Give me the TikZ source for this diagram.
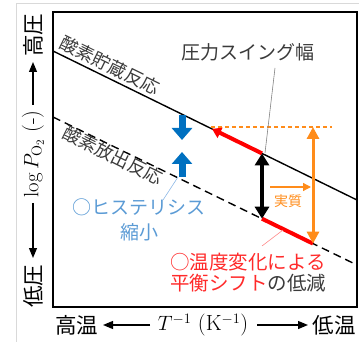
\documentclass[tikz,border=0pt]{standalone}
\usepackage[no-math]{fontspec}
\newfontfamily\jp{Noto Sans CJK JP}
\usetikzlibrary{arrows.meta}
\definecolor{bluearr}{HTML}{0070C0}
\definecolor{bluetxt}{HTML}{5B9BD5}
\definecolor{blueldr}{HTML}{8DB8E6}
\definecolor{redc}{HTML}{FF0000}
\definecolor{redtxt}{HTML}{FF2A2A}
\definecolor{redldr}{HTML}{FF8A8A}
\definecolor{orangec}{HTML}{FF8C1A}
\definecolor{darktxt}{HTML}{3A3A3A}
\definecolor{framegray}{HTML}{D9D9D9}
\tikzset{
  jplbl/.style={inner sep=0pt, font=\jp\fontsize{19}{22}\selectfont},
  rotlbl/.style={inner sep=0pt, font=\jp\fontsize{18}{20}\selectfont, text=darktxt, rotate=-26.2},
  axtxt/.style={inner sep=0pt, font=\jp\fontsize{21.5}{24}\selectfont},
  axmath/.style={inner sep=0pt, font=\fontsize{22}{26}\selectfont},
  axarrow/.style={line width=1.2pt, -{Triangle[width=8pt,length=10pt]}},
  leader/.style={line width=0.6pt},
  bluearrow/.style={bluearr, line width=7pt, -{Triangle[width=20pt,length=12pt]}},
  redseg/.style={redc, line width=4pt},
  blkdouble/.style={line width=3.2pt, {Triangle[width=14pt,length=12pt]}-{Triangle[width=14pt,length=12pt]}},
  orgdouble/.style={orangec, line width=3pt, {Triangle[width=12pt,length=12pt]}-{Triangle[width=12pt,length=12pt]}},
}
\begin{document}
\begin{tikzpicture}[x=1pt,y=-1pt]
\useasboundingbox (0,0) rectangle (359,342);
% outer light frame
\draw[framegray, line width=0.8pt] (16,342) -- (16,3) -- (359,3);
% plot box
\draw[line width=1.6pt] (53,12) rectangle (357,307);

% equilibrium lines
\coordinate (s0) at (53,51);
\coordinate (s1) at (357,200);
\coordinate (d0) at (53,117);
\coordinate (d1) at (357,265);
\draw[line width=1.4pt] (s0) -- (s1);
\draw[line width=1.4pt, dash pattern=on 8pt off 5pt] (d0) -- (d1);

\node[rotlbl] (lstore) at (110,65) {酸素貯蔵反応};
\node[rotlbl] (lrel) at (113,155) {酸素放出反応};

% key points
\coordinate (p4) at (212,128.9);
\coordinate (p1) at (262,153.4);
\coordinate (p2) at (262,218.7);
\coordinate (p3) at (313,243.6);
\coordinate (otop) at (313,127);
\coordinate (oend) at (332,127);
\coordinate (ostart) at (211,127);

% orange dashed level line
\draw[orangec, line width=1.2pt, dash pattern=on 4pt off 3pt] (ostart) -- (oend);
% red shift segments
\draw[redseg, -{Triangle[width=11pt,length=9pt]}] (p1) -- (p4);
\draw[redseg] (p2) -- (p3);
% pressure swing (black) and effective (orange)
\draw[blkdouble] (p1) -- (p2);
\draw[orgdouble] (otop) -- (p3);

% small orange arrow and label
\coordinate (sa0) at (270,187);
\coordinate (sa1) at (311,187);
\draw[orangec, line width=1.3pt, -{Triangle[width=8pt,length=8pt]}] (sa0) -- (sa1);
\node[inner sep=0pt, text=orangec, font=\jp\fontsize{14}{16}\selectfont] (jisshitsu) at (288,201) {実質};

% blue hysteresis arrows
\coordinate (b1) at (182,115);
\coordinate (b2) at (182,140);
\coordinate (b3) at (182,177);
\coordinate (b4) at (182,152);
\draw[bluearrow] (b1) -- (b2);
\draw[bluearrow] (b3) -- (b4);

% top label and leader
\node[jplbl, text=darktxt] (swing) at (248,52) {圧力スイング幅};
\coordinate (sw1) at (275,68);
\coordinate (sw2) at (265,153);
\draw[leader, gray] (sw1) -- (sw2);

% hysteresis label
\node[jplbl, text=bluetxt, align=center, font=\jp\fontsize{19}{25}\selectfont] (hys) at (139,219.5) {○ヒステリシス\\縮小};
\coordinate (hl0) at (163,200);
\coordinate (hl1) at (178,177);
\draw[leader, blueldr] (hl0) -- (hl1);

% temperature shift label
\node[jplbl, anchor=west, align=left, font=\jp\fontsize{19.5}{21}\selectfont] (shift) at (170,272.5)
  {\textcolor{redtxt}{○温度変化による}\\\textcolor{redtxt}{平衡シフト}\textcolor{darktxt}{の低減}};
\coordinate (rl0) at (262,246);
\coordinate (rl1) at (283,230);
\draw[leader, redldr] (rl0) -- (rl1);

% y axis label
\node[axtxt, rotate=90] (yhi) at (33,35.5) {高圧};
\node[axmath, rotate=90] (ymid) at (33,154) {$\log P_{\mathrm{O}_2}$ (-)};
\node[axtxt, rotate=90] (ylo) at (33,286) {低圧};
\coordinate (ya0) at (33,105);
\coordinate (ya1) at (33,62);
\coordinate (ya2) at (33,203);
\coordinate (ya3) at (33,258);
\draw[axarrow] (ya0) -- (ya1);
\draw[axarrow] (ya2) -- (ya3);

% x axis label
\node[axtxt] (xhi) at (76.5,325) {高温};
\node[axmath] (xmid) at (203,325) {$T^{-1}$ (K$^{-1}$)};
\node[axtxt] (xlo) at (334,325) {低温};
\coordinate (xa0) at (150,325);
\coordinate (xa1) at (103,325);
\coordinate (xa2) at (257,325);
\coordinate (xa3) at (308,325);
\draw[axarrow] (xa0) -- (xa1);
\draw[axarrow] (xa2) -- (xa3);
\end{tikzpicture}
\end{document}
